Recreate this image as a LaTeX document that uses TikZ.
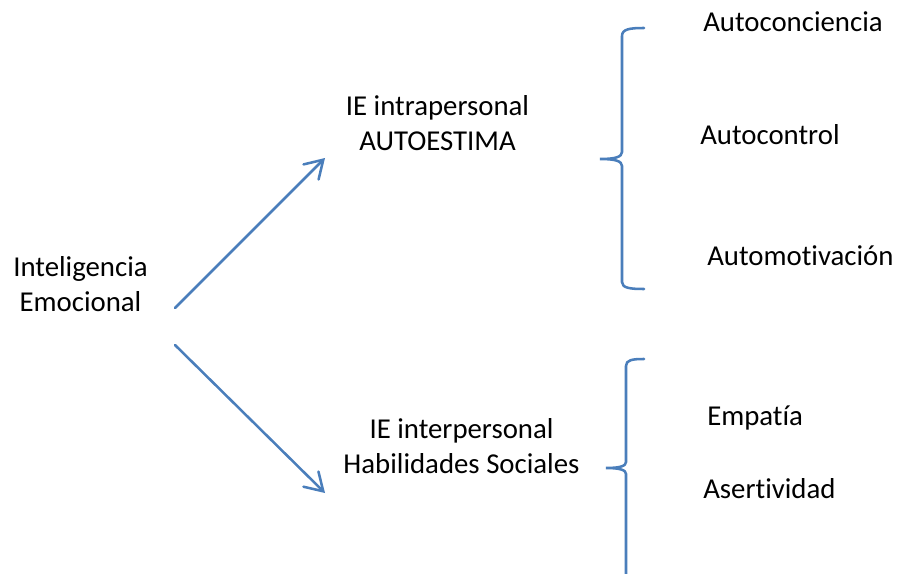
\documentclass[tikz,border=0pt]{standalone}
\usepackage{fontspec}
\setmainfont{Carlito}[Ligatures=NoCommon]
\usepackage{xcolor}
\usetikzlibrary{arrows.meta}
\definecolor{oblue}{RGB}{74,126,187}

\begin{document}
\begin{tikzpicture}[x=0.75pt, y=-0.75pt,
	txt/.style={inner sep=0pt, font=\fontsize{21.6}{26.5}\selectfont},
	multi/.style={txt, align=center},
	arr/.style={oblue, line width=1.9pt, line cap=round, -{Straight Barb[length=13pt, width=16pt, line cap=round]}},
	brc/.style={oblue, line width=1.9pt, line cap=round}]
	\useasboundingbox (0,0) rectangle (899,574);
	
	\node[multi] (emo) at (80.5,284) {Inteligencia\\Emocional};
	\node[multi] (intra) at (437.5,123) {IE intrapersonal\\AUTOESTIMA};
	\node[multi] (inter) at (461.5,446) {IE interpersonal\\Habilidades Sociales};
	
	\node[txt, anchor=base west] (conc) at (703,32) {Autoconciencia};
	\node[txt, anchor=base west] (ctrl) at (700,145) {Autocontrol};
	\node[txt, anchor=base west] (moti) at (707,265) {Automotivación};
	\node[txt, anchor=base west] (empa) at (707,425) {Empatía};
	\node[txt, anchor=base west] (aser) at (703,498) {Asertividad};
	
	\coordinate (up0) at (175,308);
	\coordinate (up1) at (325,158);
	\coordinate (dn0) at (175,345);
	\coordinate (dn1) at (325,493);
	\draw[arr] (up0) -- (up1);
	\draw[arr] (dn0) -- (dn1);
	
	% braces
	\draw[brc] (644,28) .. controls (630,28) and (622,29) .. (622,36) -- (622,152)
		.. controls (622,157) and (615,159) .. (600,159)
		.. controls (615,159) and (622,161) .. (622,166) -- (622,282)
		.. controls (622,288) and (630,289) .. (644,289);
	\draw[brc] (644,359) .. controls (632,359) and (626,360) .. (626,366) -- (626,462)
		.. controls (626,466) and (620,468) .. (606,468)
		.. controls (620,468) and (626,470) .. (626,474) -- (626,580);
\end{tikzpicture}
\end{document}
